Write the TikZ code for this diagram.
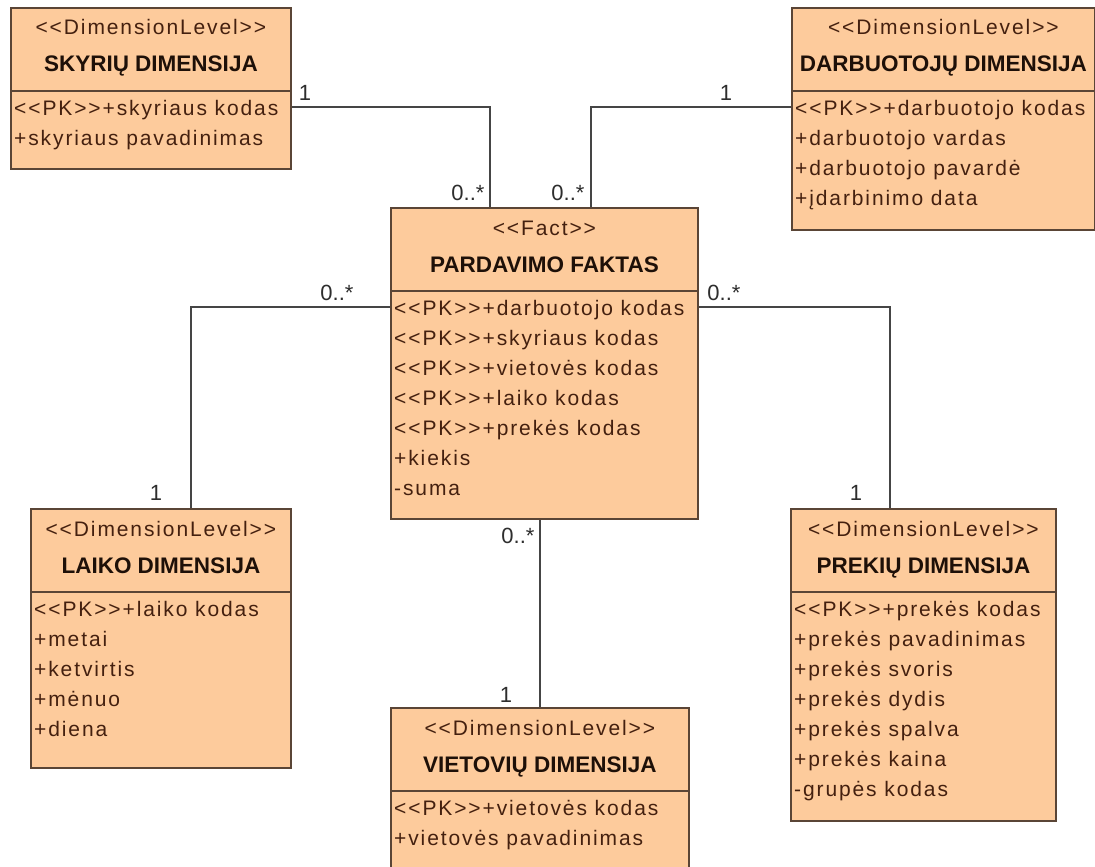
\documentclass[tikz,border=0pt]{standalone}
\usepackage{fontspec}
\setmainfont{Liberation Sans}[Ligatures=TeXOff]
\newfontfamily\attrfont{Liberation Sans}[LetterSpace=9,Ligatures=TeXOff]
\newfontfamily\headfont{Liberation Sans}[Ligatures=TeXOff]
\usetikzlibrary{calc}

\definecolor{boxfill}{HTML}{FDCB9C}
\definecolor{boxline}{HTML}{5A4536}
\definecolor{attrtext}{HTML}{44200F}
\definecolor{titletext}{HTML}{1E1008}
\definecolor{wire}{HTML}{454545}
\definecolor{multtext}{HTML}{2E2E2E}

\tikzset{
  umlbox/.style={draw=boxline, line width=1.8pt, fill=boxfill, inner sep=0pt, anchor=north west},
  stereo/.style={inner sep=0pt, anchor=base, text=attrtext, font=\attrfont\fontsize{21}{23}\selectfont},
  classname/.style={inner sep=0pt, anchor=base, text=titletext, font=\headfont\bfseries\fontsize{22.5}{24}\selectfont},
  attr/.style={inner sep=0pt, anchor=base west, text=attrtext, font=\attrfont\fontsize{21}{23}\selectfont},
  mult/.style={inner sep=0pt, anchor=base, text=multtext, font=\headfont\fontsize{22}{24}\selectfont},
  wireline/.style={draw=wire, line width=1.6pt},
  sepline/.style={draw=boxline, line width=1.4pt}
}

% #1 name, #2 left, #3 top, #4 width, #5 height, #6 stereotype, #7 class name, #8 attributes
\newcommand{\dimbox}[8]{%
  \node[umlbox, minimum width=#4pt, minimum height=#5pt] (#1) at (#2,#3) {};
  \node[stereo] (#1-st) at ($(#1.north)+(0,28)$) {#6};
  \node[classname] (#1-nm) at ($(#1.north)+(0,65)$) {#7};
  \draw[sepline] ($(#1.north west)+(0,84)$) -- ($(#1.north east)+(0,84)$);
  \foreach \a [count=\i from 0] in {#8} {
    \node[attr] (#1-a\i) at ($(#1.north west)+(4,108+30*\i)$) {\a};
  }%
}

\begin{document}
\begin{tikzpicture}[x=1pt,y=-1pt]
  \fill[white] (0,0) rectangle (1095,867);
  \useasboundingbox (0,0) rectangle (1095,867);

  \begin{scope}
    \clip (0,0) rectangle (1095,867);

    \dimbox{sky}{10}{7}{280}{161}{<<DimensionLevel>>}{SKYRIŲ DIMENSIJA}
      {<<PK>>+skyriaus kodas, +skyriaus pavadinimas}
    \dimbox{darb}{791}{7}{303}{222}{<<DimensionLevel>>}{DARBUOTOJŲ DIMENSIJA}
      {<<PK>>+darbuotojo kodas, +darbuotojo vardas, +darbuotojo pavardė, +įdarbinimo data}
    \dimbox{fact}{390}{207}{307}{311}{<<Fact>>}{PARDAVIMO FAKTAS}
      {<<PK>>+darbuotojo kodas, <<PK>>+skyriaus kodas, <<PK>>+vietovės kodas,
       <<PK>>+laiko kodas, <<PK>>+prekės kodas, +kiekis, -suma}
    \dimbox{laiko}{30}{508}{260}{259}{<<DimensionLevel>>}{LAIKO DIMENSIJA}
      {<<PK>>+laiko kodas, +metai, +ketvirtis, +mėnuo, +diena}
    \dimbox{prek}{790}{508}{265}{312}{<<DimensionLevel>>}{PREKIŲ DIMENSIJA}
      {<<PK>>+prekės kodas, +prekės pavadinimas, +prekės svoris, +prekės dydis,
       +prekės spalva, +prekės kaina, -grupės kodas}
    \dimbox{viet}{390}{707}{298}{180}{<<DimensionLevel>>}{VIETOVIŲ DIMENSIJA}
      {<<PK>>+vietovės kodas, +vietovės pavadinimas}
  \end{scope}

  % associations
  \draw[wireline] ($(sky.north east)+(0,100)$) -| ($(fact.north west)+(100,0)$);
  \draw[wireline] ($(darb.north west)+(0,100)$) -| ($(fact.north west)+(201,0)$);
  \draw[wireline] ($(fact.north west)+(0,100)$) -| ($(laiko.north west)+(161,0)$);
  \draw[wireline] ($(fact.north east)+(0,100)$) -| ($(prek.north west)+(100,0)$);
  \draw[wireline] ($(fact.south west)+(150,0)$) -- ($(viet.north west)+(150,0)$);

  % multiplicities
  \node[mult] (m-sky)    at (305,100) {1};
  \node[mult] (m-fsky)   at (468,200) {0..*};
  \node[mult] (m-fdarb)  at (568,200) {0..*};
  \node[mult] (m-darb)   at (726,100) {1};
  \node[mult] (m-flaiko) at (337,300) {0..*};
  \node[mult] (m-laiko)  at (156,500) {1};
  \node[mult] (m-fprek)  at (724,300) {0..*};
  \node[mult] (m-prek)   at (856,500) {1};
  \node[mult] (m-fviet)  at (518,543) {0..*};
  \node[mult] (m-viet)   at (506,702) {1};
\end{tikzpicture}
\end{document}
